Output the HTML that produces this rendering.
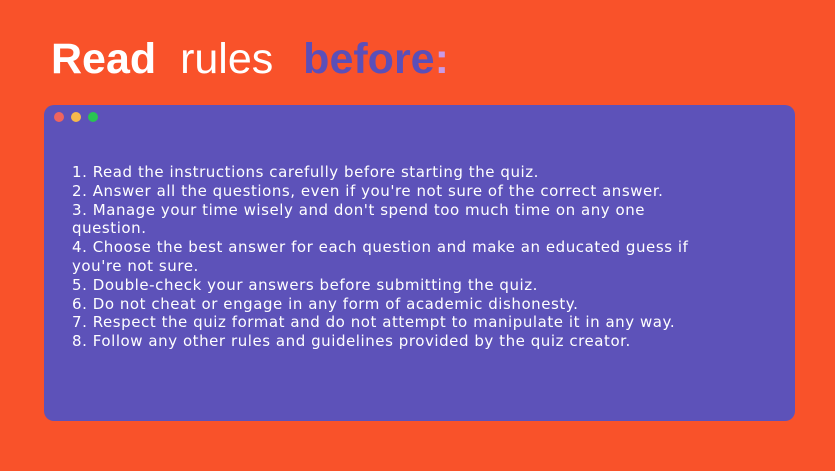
<!DOCTYPE html>
<html><head><meta charset="utf-8"><style>
html,body{margin:0;padding:0;}
body{width:835px;height:471px;background:#f9522a;position:relative;overflow:hidden;font-family:"Liberation Sans",sans-serif;}
.title{position:absolute;left:51px;top:34px;font-size:43px;line-height:50px;white-space:nowrap;color:#fff;}
.title b{font-weight:bold;}
.card{position:absolute;left:44px;top:105px;width:751px;height:316px;background:#5d52b9;border-radius:10px;}
.dot{position:absolute;top:7px;width:10px;height:10px;border-radius:50%;}
.rules{position:absolute;left:28px;top:58px;width:628px;font-family:"DejaVu Sans",sans-serif;font-size:15px;letter-spacing:0.55px;line-height:18.8px;color:#fff;}
</style></head><body>
<div class="title"><b>Read</b>&nbsp; <span>rules</span>&nbsp;&nbsp;<b style="color:#5b4fb8;margin-left:6px">before</b><b style="color:#c99ae6">:</b></div>
<div class="card">
<div class="dot" style="left:10px;background:#f0645e"></div>
<div class="dot" style="left:27px;background:#f6b94b"></div>
<div class="dot" style="left:44px;background:#29c453"></div>
<div class="rules">
1. Read the instructions carefully before starting the quiz.<br>
2. Answer all the questions, even if you're not sure of the correct answer.<br>
3. Manage your time wisely and don't spend too much time on any one question.<br>
4. Choose the best answer for each question and make an educated guess if you're not sure.<br>
5. Double-check your answers before submitting the quiz.<br>
6. Do not cheat or engage in any form of academic dishonesty.<br>
7. Respect the quiz format and do not attempt to manipulate it in any way.<br>
8. Follow any other rules and guidelines provided by the quiz creator.
</div>
</div>
</body></html>
